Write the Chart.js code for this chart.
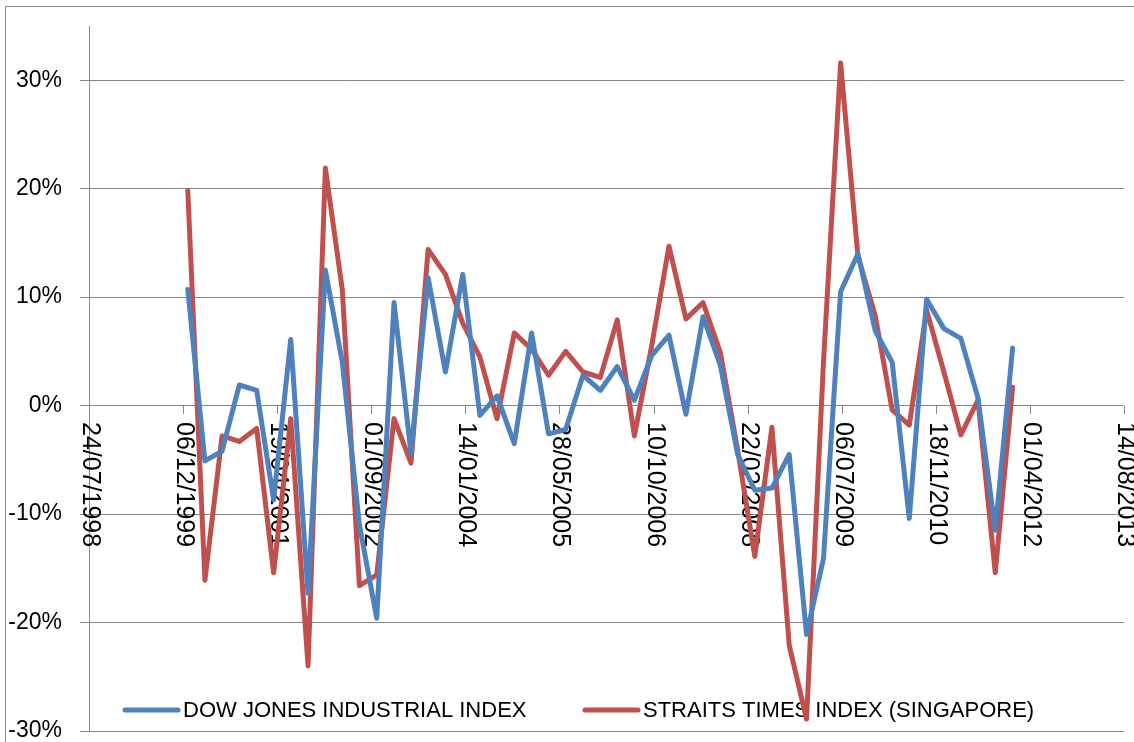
<!DOCTYPE html>
<html>
<head>
<meta charset="utf-8">
<script src="https://cdn.jsdelivr.net/npm/chart.js@4.4.0/dist/chart.umd.min.js"></script>
<style>
  html, body { margin: 0; padding: 0; background: #fff; }
  #wrap { position: relative; width: 1134px; height: 742px; overflow: hidden; }
  #frame { position: absolute; left: 5px; top: 6px; width: 1200px; height: 800px; border: 1px solid #8c8c8c; }
  canvas { position: absolute; left: 0; top: 0; }
</style>
</head>
<body>
<div id="wrap">
  <div id="frame"></div>
  <canvas id="returnsChart" width="1134" height="742"></canvas>
</div>
<script>
// Quarter-end dates
const quarters = [
    '31/12/1999',
    '31/03/2000', '30/06/2000', '30/09/2000', '31/12/2000',
    '31/03/2001', '30/06/2001', '30/09/2001', '31/12/2001',
    '31/03/2002', '30/06/2002', '30/09/2002', '31/12/2002',
    '31/03/2003', '30/06/2003', '30/09/2003', '31/12/2003',
    '31/03/2004', '30/06/2004', '30/09/2004', '31/12/2004',
    '31/03/2005', '30/06/2005', '30/09/2005', '31/12/2005',
    '31/03/2006', '30/06/2006', '30/09/2006', '31/12/2006',
    '31/03/2007', '30/06/2007', '30/09/2007', '31/12/2007',
    '31/03/2008', '30/06/2008', '30/09/2008', '31/12/2008',
    '31/03/2009', '30/06/2009', '30/09/2009', '31/12/2009',
    '31/03/2010', '30/06/2010', '30/09/2010', '31/12/2010',
    '31/03/2011', '30/06/2011', '30/09/2011', '31/12/2011'
];

// Quarterly returns in percent
const dowJones = [
    10.7,
    -5.1, -4.2, 1.9, 1.4,
    -8.7, 6.1, -17.3, 12.5,
    4.0, -11.0, -19.6, 9.5,
    -4.4, 11.8, 3.1, 12.1,
    -0.9, 0.9, -3.5, 6.7,
    -2.6, -2.2, 2.8, 1.4,
    3.6, 0.5, 4.6, 6.5,
    -0.8, 8.2, 3.7, -4.5,
    -7.8, -7.6, -4.5, -21.1,
    -14.1, 10.5, 14.0, 6.9,
    4.0, -10.4, 9.8, 7.1,
    6.2, 0.7, -11.5, 5.3
];

const straitsTimes = [
    19.8,
    -16.1, -2.8, -3.3, -2.1,
    -15.4, -1.2, -24.0, 21.9,
    10.7, -16.6, -15.6, -1.2,
    -5.3, 14.4, 12.1, 7.6,
    4.5, -1.2, 6.7, 5.2,
    2.8, 5.0, 3.1, 2.6,
    7.9, -2.8, 5.5, 14.7,
    8.0, 9.5, 4.9, -4.1,
    -13.9, -2.0, -22.1, -28.9,
    4.0, 31.6, 13.8, 8.3,
    -0.4, -1.8, 8.8, 3.1,
    -2.7, 0.5, -15.4, 1.7
];

// Axis ticks
const xTickLabels = ['24/07/1998', '06/12/1999', '19/04/2001', '01/09/2002', '14/01/2004', '28/05/2005',
    '10/10/2006', '22/02/2008', '06/07/2009', '18/11/2010', '01/04/2012', '14/08/2013'];
const yTicks = [-30, -20, -10, 0, 10, 20, 30];
const yMin = -30;
const yMax = 35;

const gridColor = '#868686';
const textFont = '"Liberation Sans"';

// dd/mm/yyyy -> day number
function toDay(s) {
    const [d, m, y] = s.split('/').map(Number);
    return Date.UTC(y, m - 1, d) / 86400000;
}

function toPoints(values) {
    return values.map((v, i) => ({ x: toDay(quarters[i]), y: v }));
}

// Date labels hang below the 0% line, rotated clockwise
const dateAxisPlugin = {
    id: 'dateAxis',
    beforeDatasetsDraw(chart) {
        const { ctx, scales: { x, y } } = chart;
        const y0 = Math.round(y.getPixelForValue(0));
        ctx.save();
        ctx.strokeStyle = gridColor;
        ctx.lineWidth = 1;
        ctx.fillStyle = '#000';
        ctx.font = '25px ' + textFont;
        ctx.textAlign = 'left';
        ctx.textBaseline = 'middle';
        xTickLabels.forEach(label => {
            const px = Math.round(x.getPixelForValue(toDay(label))) + 0.5;
            ctx.beginPath();
            ctx.moveTo(px, y0);
            ctx.lineTo(px, y0 + 8);
            ctx.stroke();
            ctx.save();
            ctx.translate(px, y0 + 16);
            ctx.rotate(Math.PI / 2);
            ctx.fillText(label, 0, 0);
            ctx.restore();
        });
        ctx.restore();
    }
};

// Legend inside the plot, near the bottom
const legendPlugin = {
    id: 'insideLegend',
    beforeDatasetsDraw(chart) {
        const { ctx } = chart;
        const starts = [125, 585];
        const ly = 710;
        ctx.save();
        ctx.font = '22px ' + textFont;
        ctx.textAlign = 'left';
        ctx.textBaseline = 'middle';
        chart.data.datasets.forEach((ds, i) => {
            const sx = starts[i];
            ctx.strokeStyle = ds.borderColor;
            ctx.lineWidth = 5;
            ctx.lineCap = 'round';
            ctx.beginPath();
            ctx.moveTo(sx, ly);
            ctx.lineTo(sx + 53, ly);
            ctx.stroke();
            ctx.fillStyle = '#000';
            ctx.fillText(ds.label, sx + 58, ly + 1);
        });
        ctx.restore();
    }
};

const ctx = document.getElementById('returnsChart').getContext('2d');

const chart = new Chart(ctx, {
    type: 'line',
    data: {
        datasets: [{
            label: 'DOW JONES INDUSTRIAL INDEX',
            data: toPoints(dowJones),
            borderColor: '#4F81BD',
            borderWidth: 5,
            borderJoinStyle: 'round',
            borderCapStyle: 'round',
            pointRadius: 0,
            tension: 0
        }, {
            label: 'STRAITS TIMES INDEX (SINGAPORE)',
            data: toPoints(straitsTimes),
            borderColor: '#C0504D',
            borderWidth: 5,
            borderJoinStyle: 'round',
            borderCapStyle: 'round',
            pointRadius: 0,
            tension: 0
        }]
    },
    options: {
        responsive: false,
        animation: false,
        devicePixelRatio: 1,
        layout: {
            padding: { left: 0, top: 26, right: 10, bottom: 11 }
        },
        plugins: {
            legend: { display: false },
            title: { display: false },
            tooltip: { enabled: false }
        },
        scales: {
            x: {
                type: 'linear',
                display: false,
                min: toDay(xTickLabels[0]),
                max: toDay(xTickLabels[xTickLabels.length - 1])
            },
            y: {
                min: yMin,
                max: yMax,
                afterBuildTicks: axis => {
                    axis.ticks = yTicks.map(v => ({ value: v }));
                },
                afterFit: axis => {
                    axis.width = 89;
                    axis.paddingTop = 0;
                    axis.paddingBottom = 0;
                },
                grid: {
                    color: gridColor,
                    lineWidth: 1,
                    tickLength: 9,
                    drawTicks: true
                },
                border: { display: true, color: gridColor, width: 1 },
                ticks: {
                    padding: 18,
                    color: '#000',
                    font: { family: textFont, size: 23 },
                    callback: v => v + '%'
                }
            }
        }
    },
    plugins: [dateAxisPlugin, legendPlugin]
});
</script>
</body>
</html>
